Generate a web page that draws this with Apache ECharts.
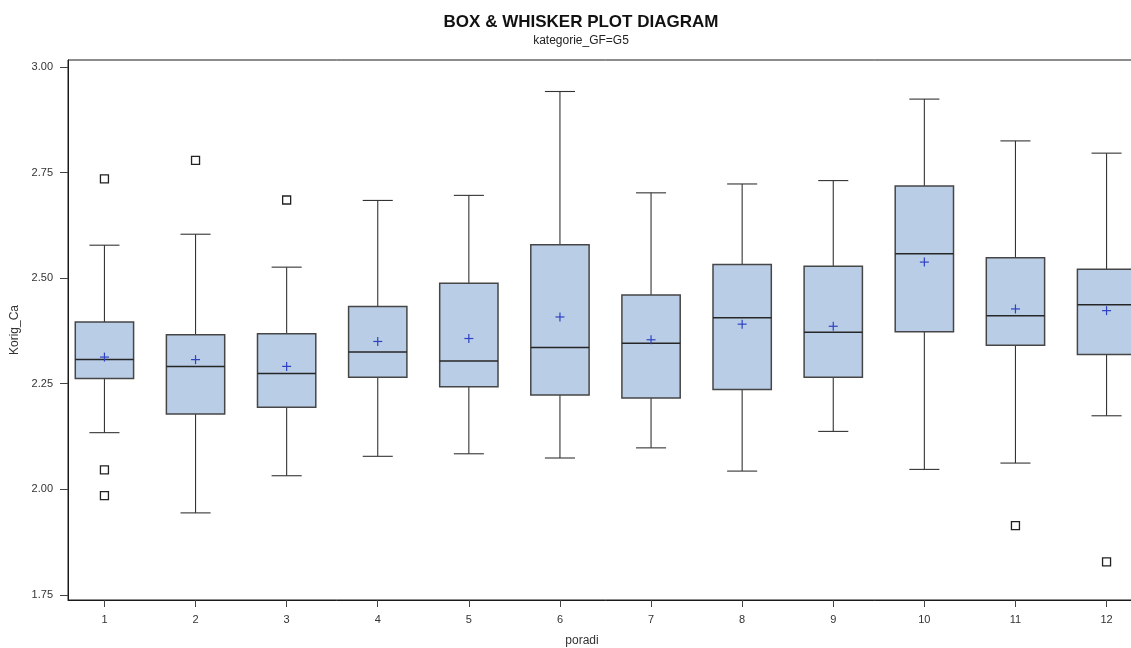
<!DOCTYPE html>
<html>
<head>
<meta charset="utf-8">
<title>Box & Whisker Plot</title>
<script src="https://cdn.jsdelivr.net/npm/echarts@6/dist/echarts.min.js"></script>
<style>
  html, body { margin: 0; padding: 0; background: #fff; overflow: hidden; }
  #chart { width: 1160px; height: 648px; }
</style>
</head>
<body>
<div id="chart"></div>
<script>
// Group positions (poradi) and five-number summaries of Korig_Ca per group
const categories = [1, 2, 3, 4, 5, 6, 7, 8, 9, 10, 11, 12];
const whiskerLow  = [2.134, 1.944, 2.032, 2.078, 2.084, 2.074, 2.098, 2.043, 2.137, 2.047, 2.062, 2.174];
const q1          = [2.262, 2.178, 2.194, 2.265, 2.243, 2.223, 2.216, 2.236, 2.265, 2.373, 2.341, 2.319];
const median      = [2.307, 2.291, 2.274, 2.325, 2.304, 2.336, 2.346, 2.406, 2.372, 2.558, 2.411, 2.437];
const q3          = [2.396, 2.366, 2.368, 2.433, 2.488, 2.579, 2.460, 2.532, 2.528, 2.718, 2.548, 2.521];
const whiskerHigh = [2.578, 2.604, 2.526, 2.684, 2.696, 2.942, 2.702, 2.723, 2.731, 2.924, 2.825, 2.796];
const mean        = [2.313, 2.307, 2.291, 2.350, 2.357, 2.408, 2.354, 2.391, 2.386, 2.538, 2.427, 2.423];
// Outliers as [poradi, value]
const outliers = [[1, 2.735], [1, 2.046], [1, 1.985], [2, 2.779], [3, 2.685], [11, 1.914], [12, 1.828]];
// Tick values
const yTicks = [1.75, 2.00, 2.25, 2.50, 2.75, 3.00];
const xTicks = categories;

const boxRows = categories.map((c, i) => [c, whiskerLow[i], q1[i], median[i], q3[i], whiskerHigh[i], mean[i]]);

const FONT = '"Liberation Sans", Arial, sans-serif';
const BOX_W = 0.64;   // box width in axis units
const CAP_W = 0.33;   // whisker cap width in axis units

function renderBox(params, api) {
  const x = api.value(0);
  const pLow = api.coord([x, api.value(1)]);
  const pQ1 = api.coord([x, api.value(2)]);
  const pMed = api.coord([x, api.value(3)]);
  const pQ3 = api.coord([x, api.value(4)]);
  const pHigh = api.coord([x, api.value(5)]);
  const pMean = api.coord([x, api.value(6)]);
  const halfBox = api.size([BOX_W, 0])[0] / 2;
  const halfCap = api.size([CAP_W, 0])[0] / 2;
  const cx = pQ1[0];
  const wStyle = { stroke: '#333', lineWidth: 1.1 };
  const line = (x1, y1, x2, y2, style) => ({
    type: 'line', shape: { x1, y1, x2, y2 }, style, z2: 1
  });
  return {
    type: 'group',
    children: [
      line(cx, pLow[1], cx, pQ1[1], wStyle),
      line(cx, pQ3[1], cx, pHigh[1], wStyle),
      line(cx - halfCap, pLow[1], cx + halfCap, pLow[1], wStyle),
      line(cx - halfCap, pHigh[1], cx + halfCap, pHigh[1], wStyle),
      {
        type: 'rect',
        shape: { x: cx - halfBox, y: pQ3[1], width: halfBox * 2, height: pQ1[1] - pQ3[1] },
        style: { fill: '#b9cee6', stroke: '#464646', lineWidth: 1.5 },
        z2: 2
      },
      {
        type: 'line',
        shape: { x1: cx - halfBox, y1: pMed[1], x2: cx + halfBox, y2: pMed[1] },
        style: { stroke: '#262626', lineWidth: 1.5 },
        z2: 3
      },
      {
        type: 'line',
        shape: { x1: cx - 4.5, y1: pMean[1], x2: cx + 4.5, y2: pMean[1] },
        style: { stroke: '#2f42c2', lineWidth: 1.2 },
        z2: 4
      },
      {
        type: 'line',
        shape: { x1: cx, y1: pMean[1] - 4.5, x2: cx, y2: pMean[1] + 4.5 },
        style: { stroke: '#2f42c2', lineWidth: 1.2 },
        z2: 4
      }
    ]
  };
}

const chart = echarts.init(document.getElementById('chart'), null, { renderer: 'canvas' });

chart.setOption({
  animation: false,
  backgroundColor: '#fff',
  grid: {
    left: 68, top: 60, right: 17, bottom: 48,
    outerBoundsMode: 'none',
    containLabel: false,
    show: true, borderColor: '#1a1a1a', borderWidth: 1, backgroundColor: 'transparent'
  },
  graphic: [
    {
      type: 'text', x: 581, y: 22,
      style: {
        text: 'BOX & WHISKER PLOT DIAGRAM', font: 'bold 17px ' + FONT,
        fill: '#111', align: 'center', verticalAlign: 'middle'
      }
    },
    {
      type: 'text', x: 581, y: 41,
      style: {
        text: 'kategorie_GF=G5', font: '12px ' + FONT,
        fill: '#222', align: 'center', verticalAlign: 'middle'
      }
    },
    {
      type: 'text', x: 582, y: 641,
      style: {
        text: 'poradi', font: '12px ' + FONT,
        fill: '#333', align: 'center', verticalAlign: 'middle'
      }
    }
  ],
  xAxis: {
    type: 'value',
    min: 0.6, max: 12.4,
    axisLine: { show: true, lineStyle: { color: '#1a1a1a', width: 1 } },
    axisTick: { show: true, customValues: xTicks, length: 7, lineStyle: { color: '#444' } },
    axisLabel: {
      customValues: xTicks, margin: 14, color: '#333',
      fontFamily: FONT, fontSize: 11
    },
    splitLine: { show: false }
  },
  yAxis: {
    type: 'value',
    min: 1.7377, max: 3.0166,
    name: 'Korig_Ca', nameLocation: 'middle', nameGap: 45, nameRotate: 90,
    nameTextStyle: { color: '#333', fontFamily: FONT, fontSize: 12 },
    axisLine: { show: true, lineStyle: { color: '#1a1a1a', width: 1 } },
    axisTick: { show: true, customValues: yTicks, length: 8, lineStyle: { color: '#444' } },
    axisLabel: {
      customValues: yTicks, margin: 15, color: '#333',
      fontFamily: FONT, fontSize: 11,
      formatter: v => v.toFixed(2)
    },
    splitLine: { show: false }
  },
  series: [
    {
      type: 'custom',
      name: 'box',
      data: boxRows,
      encode: { x: 0, y: [1, 2, 3, 4, 5, 6] },
      renderItem: renderBox,
      clip: true
    },
    {
      type: 'scatter',
      name: 'outliers',
      data: outliers,
      symbol: 'rect',
      symbolSize: 8,
      itemStyle: { color: '#fff', borderColor: '#222', borderWidth: 1.3, opacity: 1 },
      z: 3
    }
  ]
});
</script>
</body>
</html>
